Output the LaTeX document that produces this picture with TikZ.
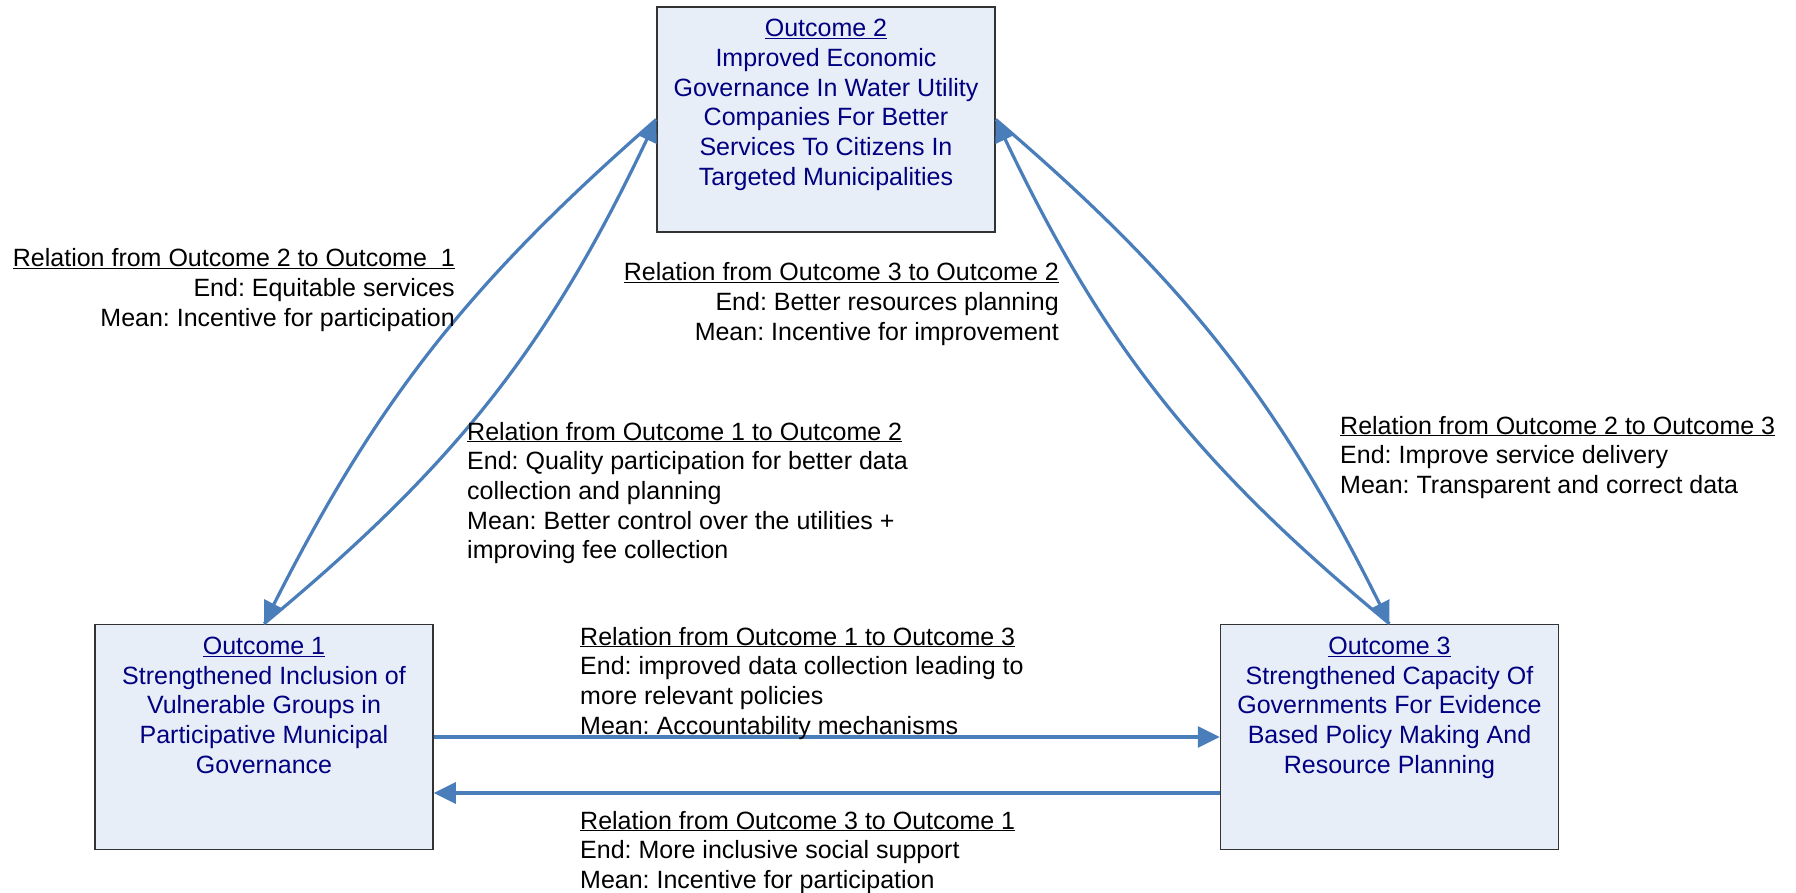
\documentclass[tikz,border=0pt]{standalone}
\usepackage{fontspec}
\setmainfont{Liberation Sans}
\usetikzlibrary{arrows.meta,calc}
\definecolor{conncol}{HTML}{4A7EBB}
\definecolor{boxfill}{HTML}{E8EEF8}
\definecolor{boxtext}{HTML}{000080}
\definecolor{boxline}{HTML}{333333}
\newcommand\diagfont{\fontsize{25}{29.7}\selectfont}
\frenchspacing
\begin{document}
\frenchspacing
\begin{tikzpicture}[x=1pt,y=-1pt,
  box/.style={draw=boxline,line width=1.5pt,fill=boxfill,minimum width=338pt,minimum height=225pt,inner sep=0pt},
  boxtxt/.style={text=boxtext,inner sep=0pt,anchor=base,font=\diagfont},
  lbl/.style={inner sep=0pt,font=\diagfont},
  conn/.style={draw=conncol,line width=3.2pt,-{Triangle[length=22pt,width=21pt]}}]
\useasboundingbox (0,0) rectangle (1796,893);

% boxes
\node[box] (o2) at (826,119.5) {};
\node[box] (o1) at (264,737) {};
\node[box] (o3) at (1389.5,737) {};

\node[boxtxt] (o2t) at (826,36.7) {\begin{tabular}[t]{@{}c@{}}\underline{Outcome 2}\\Improved Economic\\Governance In Water Utility\\Companies For Better\\Services To Citizens In\\Targeted Municipalities\end{tabular}};
\node[boxtxt] (o1t) at (264,654.3) {\begin{tabular}[t]{@{}c@{}}\underline{Outcome 1}\\Strengthened Inclusion of\\Vulnerable Groups in\\Participative Municipal\\Governance\end{tabular}};
\node[boxtxt] (o3t) at (1389.5,654.3) {\begin{tabular}[t]{@{}c@{}}\underline{Outcome 3}\\Strengthened Capacity Of\\Governments For Evidence\\Based Policy Making And\\Resource Planning\end{tabular}};

% connectors
\draw[conn] (o2.west) to[bend right=11] (o1.north);
\draw[conn] (o1.north) to[bend right=12.5] (o2.west);
\draw[conn] (o2.east) to[bend left=11.5] (o3.north);
\draw[conn] (o3.north) to[bend left=12.5] (o2.east);
\draw[conn] (o1.east) -- (o3.west);
\draw[conn] ($(o3.west)+(0,56)$) -- ($(o1.east)+(0,56)$);

% labels
\node[lbl,anchor=base east] (l21) at (455,267) {\begin{tabular}[t]{@{}r@{}}\underline{Relation from Outcome 2 to Outcome~~1}\\End: Equitable services\\Mean: Incentive for participation\end{tabular}};
\node[lbl,anchor=base east] (l32) at (1059,281) {\begin{tabular}[t]{@{}r@{}}\underline{Relation from Outcome 3 to Outcome 2}\\End: Better resources planning\\Mean: Incentive for improvement\end{tabular}};
\node[lbl,anchor=base west] (l12) at (467,440) {\begin{tabular}[t]{@{}l@{}}\underline{Relation from Outcome 1 to Outcome 2}\\End: Quality participation for better data\\collection and planning\\Mean: Better control over the utilities +\\improving fee collection\end{tabular}};
\node[lbl,anchor=base west] (l23) at (1340,434) {\begin{tabular}[t]{@{}l@{}}\underline{Relation from Outcome 2 to Outcome 3}\\End: Improve service delivery\\Mean: Transparent and correct data\end{tabular}};
\node[lbl,anchor=base west] (l13) at (580,645) {\begin{tabular}[t]{@{}l@{}}\underline{Relation from Outcome 1 to Outcome 3}\\End: improved data collection leading to\\more relevant policies\\Mean: Accountability mechanisms\end{tabular}};
\node[lbl,anchor=base west] (l31) at (580,829) {\begin{tabular}[t]{@{}l@{}}\underline{Relation from Outcome 3 to Outcome 1}\\End: More inclusive social support\\Mean: Incentive for participation\end{tabular}};
\end{tikzpicture}
\end{document}
